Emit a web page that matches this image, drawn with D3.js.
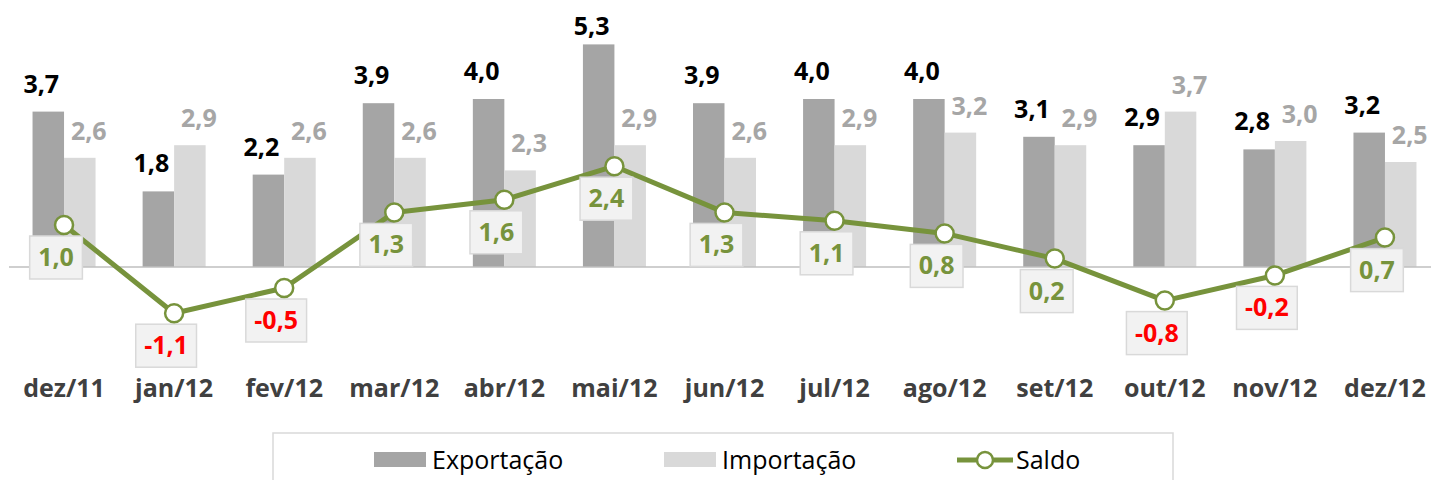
<!DOCTYPE html>
<html>
<head>
<meta charset="utf-8">
<script src="https://cdn.jsdelivr.net/npm/d3@7"></script>
<style>
html,body{margin:0;padding:0;background:#fff;}
svg{display:block;}
</style>
</head>
<body>
<svg id="chart" width="1431" height="480"></svg>
<script>
const categories = ["dez/11","jan/12","fev/12","mar/12","abr/12","mai/12","jun/12","jul/12","ago/12","set/12","out/12","nov/12","dez/12"];
const exportacao = [3.7,1.8,2.2,3.9,4.0,5.3,3.9,4.0,4.0,3.1,2.9,2.8,3.2];
const importacao = [2.6,2.9,2.6,2.6,2.3,2.9,2.6,2.9,3.2,2.9,3.7,3.0,2.5];
const saldo = [1.0,-1.1,-0.5,1.3,1.6,2.4,1.3,1.1,0.8,0.2,-0.8,-0.2,0.7];
const seriesNames = ["Exportação","Importação","Saldo"];

const FONT = "'Open Sans', 'Noto Sans', sans-serif";
const C_EXP = "#a5a5a5", C_IMP = "#d9d9d9", C_LINE = "#77933c";
const fmt = v => d3.format(".1f")(v).replace(".", ",").replace("−","-");

const svg = d3.select("#chart");
const x = d3.scaleBand().domain(categories).range([9, 1440]).padding(0);
const bw = x.bandwidth();
const sub = d3.scaleBand().domain(["exp","imp"]).range([bw/2 - 31.5, bw/2 + 31.5]).padding(0);
const y = d3.scaleLinear().domain([-2, 6]).range([351, 15]);
const cx = c => x(c) + bw/2;

// bars
const gBars = svg.append("g");
gBars.selectAll("rect.exp").data(categories).join("rect")
  .attr("x", c => x(c) + sub("exp")).attr("width", sub.bandwidth())
  .attr("y", (c,i) => y(exportacao[i])).attr("height", (c,i) => y(0) - y(exportacao[i]))
  .attr("fill", C_EXP);
gBars.selectAll("rect.imp").data(categories).join("rect")
  .attr("x", c => x(c) + sub("imp")).attr("width", sub.bandwidth())
  .attr("y", (c,i) => y(importacao[i])).attr("height", (c,i) => y(0) - y(importacao[i]))
  .attr("fill", C_IMP);

// zero axis line
svg.append("line").attr("x1", 9).attr("x2", 1431).attr("y1", y(0)).attr("y2", y(0))
  .attr("stroke", "#bfbfbf").attr("stroke-width", 1.5);

// bar labels
svg.append("g").selectAll("text").data(categories).join("text")
  .attr("x", c => x(c) + sub("exp") + sub.bandwidth()/2 - 7)
  .attr("y", (c,i) => Math.max(y(exportacao[i]) - 19, 35))
  .attr("text-anchor", "middle").attr("font-family", FONT).attr("font-weight", 700)
  .attr("font-size", 25).attr("fill", "#000").text((c,i) => fmt(exportacao[i]));
svg.append("g").selectAll("text").data(categories).join("text")
  .attr("x", c => x(c) + sub("imp") + sub.bandwidth()/2 + 9)
  .attr("y", (c,i) => y(importacao[i]) - 18)
  .attr("text-anchor", "middle").attr("font-family", FONT).attr("font-weight", 700)
  .attr("font-size", 25).attr("fill", "#a6a6a6").text((c,i) => fmt(importacao[i]));

// saldo line
const line = d3.line().x((d,i) => cx(categories[i])).y(d => y(d));
svg.append("path").datum(saldo).attr("d", line).attr("fill", "none")
  .attr("stroke", C_LINE).attr("stroke-width", 5).attr("stroke-linejoin", "round");

// saldo label boxes
const gLab = svg.append("g");
saldo.forEach((v, i) => {
  const px = cx(categories[i]) - 8, py = y(v) + 11;
  const g = gLab.append("g");
  const t = g.append("text").attr("x", px).attr("y", py + 30)
    .attr("text-anchor", "middle").attr("font-family", FONT).attr("font-weight", 700)
    .attr("font-size", 25).attr("fill", v < 0 ? "#ff0000" : C_LINE).text(fmt(v));
  const w = t.node().getComputedTextLength() + 17;
  g.insert("rect", "text").attr("x", px - w/2).attr("y", py).attr("width", w).attr("height", 43)
    .attr("fill", "#f2f2f2").attr("stroke", "#d9d9d9").attr("stroke-width", 1.5);
});

// markers
svg.append("g").selectAll("circle").data(saldo).join("circle")
  .attr("cx", (d,i) => cx(categories[i])).attr("cy", d => y(d)).attr("r", 9)
  .attr("fill", "#fff").attr("stroke", C_LINE).attr("stroke-width", 2.5);

// x axis labels
svg.append("g").selectAll("text").data(categories).join("text")
  .attr("x", c => cx(c)).attr("y", 397).attr("text-anchor", "middle")
  .attr("font-family", FONT).attr("font-weight", 700).attr("font-size", 25)
  .attr("fill", "#404040").text(c => c);

// legend
const lg = svg.append("g");
lg.append("rect").attr("x", 273).attr("y", 433).attr("width", 900).attr("height", 70)
  .attr("fill", "#fff").attr("stroke", "#d9d9d9").attr("stroke-width", 1.5);
const legItems = [
  {name: seriesNames[0], x: 374, type: "bar", color: C_EXP},
  {name: seriesNames[1], x: 664, type: "bar", color: C_IMP},
  {name: seriesNames[2], x: 957, type: "line", color: C_LINE}
];
legItems.forEach(it => {
  if (it.type === "bar") {
    lg.append("rect").attr("x", it.x).attr("y", 452).attr("width", 52).attr("height", 15).attr("fill", it.color);
  } else {
    lg.append("line").attr("x1", it.x).attr("x2", it.x + 56).attr("y1", 460).attr("y2", 460)
      .attr("stroke", it.color).attr("stroke-width", 5);
    lg.append("circle").attr("cx", it.x + 28).attr("cy", 460).attr("r", 8)
      .attr("fill", "#fff").attr("stroke", it.color).attr("stroke-width", 2.5);
  }
  lg.append("text").attr("x", it.x + (it.type === "bar" ? 58 : 59)).attr("y", 469)
    .attr("font-family", FONT).attr("font-size", 25).attr("fill", "#000").text(it.name);
});
</script>
</body>
</html>
